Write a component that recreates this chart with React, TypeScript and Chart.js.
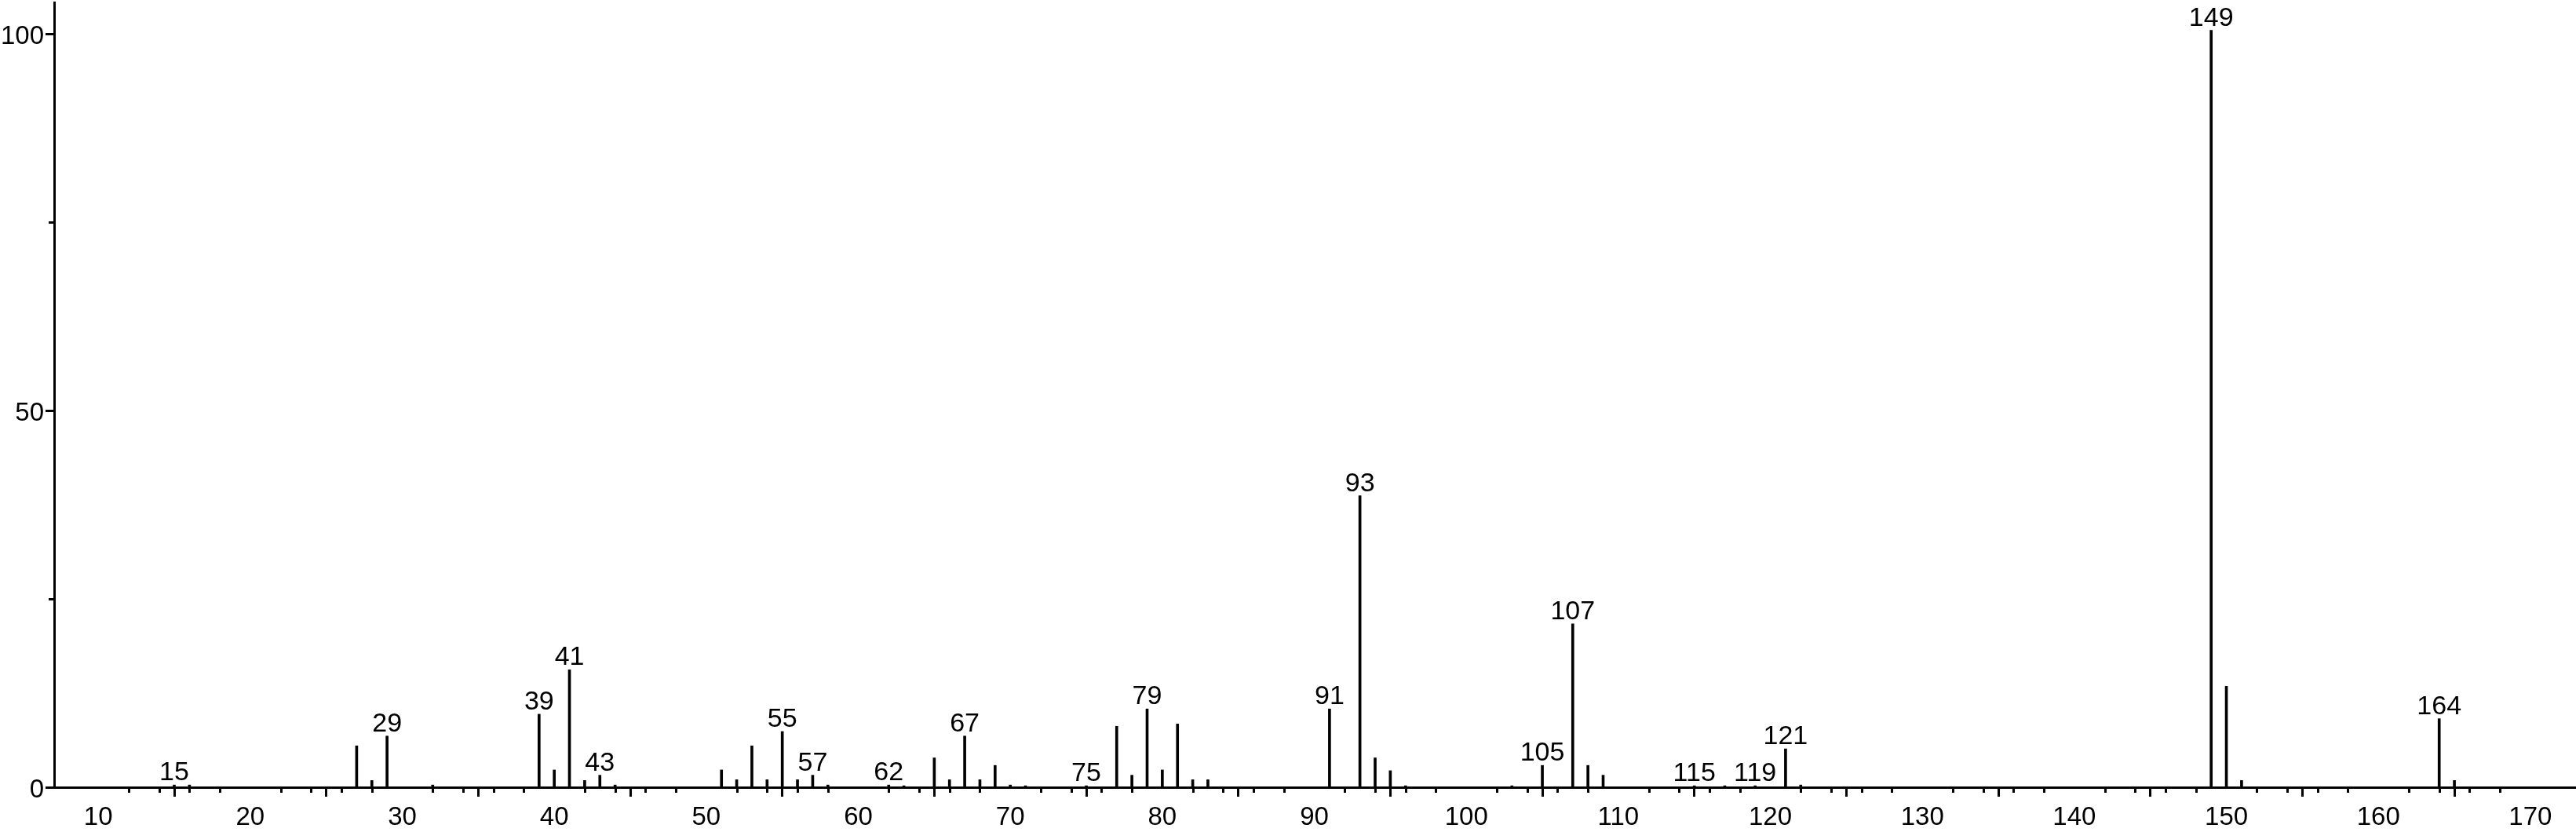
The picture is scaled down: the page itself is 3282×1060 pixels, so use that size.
import React, { useEffect, useRef } from 'react';
import { Chart, registerables } from 'chart.js';

Chart.register(...registerables);

// m/z values of the spectrum lines
const masses = [
  15, 16, 27, 28, 29, 32, 39, 40, 41, 42, 43, 44,
  51, 52, 53, 54, 55, 56, 57, 58, 62, 63, 65, 66, 67, 68, 69, 70, 71, 75,
  77, 78, 79, 80, 81, 82, 83, 91, 93, 94, 95, 96, 103, 105, 107, 108, 109,
  115, 117, 119, 121, 122, 149, 150, 151, 164, 165,
];

// relative intensities (%)
const intensities = [
  0.3, 0.3, 5.5, 0.9, 6.8, 0.3, 9.7, 2.3, 15.6, 0.9, 1.6, 0.3,
  2.3, 1.0, 5.5, 1.0, 7.4, 1.0, 1.6, 0.3, 0.3, 0.2, 3.9, 1.0, 6.8, 1.0, 2.9, 0.3, 0.2, 0.2,
  8.1, 1.6, 10.4, 2.3, 8.4, 1.0, 1.0, 10.4, 38.7, 3.9, 2.2, 0.2, 0.2, 2.9, 21.7, 2.9, 1.6,
  0.2, 0.2, 0.2, 5.1, 0.3, 100.5, 13.4, 0.9, 9.1, 0.9,
];

// lines that carry an m/z label
const labeledMasses = [15, 29, 39, 41, 43, 55, 57, 62, 67, 75, 79, 91, 93, 105, 107, 115, 119, 121, 149, 164];

// axis ticks
const xMajorTicks = [10, 20, 30, 40, 50, 60, 70, 80, 90, 100, 110, 120, 130, 140, 150, 160, 170];
const xMinorStep = 2;
const yMajorTicks = [0, 50, 100];
const yMinorTicks = [25, 75];

const X_MIN = 7.1;
const X_MAX = 173;
const Y_MIN = 0;
const Y_MAX = 104.2;

const FONT = '"Liberation Sans", Arial, Helvetica, sans-serif';

const minorTicksPlugin = {
  id: 'minorTicks',
  afterDraw(chart: any) {
    const ctx = chart.ctx;
    const xs = chart.scales.x;
    const ys = chart.scales.y;
    ctx.save();
    ctx.strokeStyle = '#000';
    ctx.lineWidth = 3;
    ctx.beginPath();
    for (let i = 0; i < xMajorTicks.length - 1; i++) {
      for (let t = xMajorTicks[i] + xMinorStep; t < xMajorTicks[i + 1]; t += xMinorStep) {
        const px = Math.round(xs.getPixelForValue(t)) + 0.5;
        ctx.moveTo(px, ys.bottom);
        ctx.lineTo(px, ys.bottom + 7);
      }
    }
    for (const v of yMinorTicks) {
      const py = Math.round(ys.getPixelForValue(v)) + 0.5;
      ctx.moveTo(xs.left - 7, py);
      ctx.lineTo(xs.left, py);
    }
    ctx.stroke();
    ctx.restore();
  },
};

const peakLabelPlugin = {
  id: 'peakLabels',
  afterDatasetsDraw(chart: any) {
    const ctx = chart.ctx;
    const meta = chart.getDatasetMeta(0);
    ctx.save();
    ctx.font = `34px ${FONT}`;
    ctx.fillStyle = '#000';
    ctx.textAlign = 'center';
    ctx.textBaseline = 'alphabetic';
    masses.forEach((m, i) => {
      if (!labeledMasses.includes(m)) return;
      const el = meta.data[i];
      if (!el) return;
      ctx.fillText(String(m), el.x, el.y - 6);
    });
    ctx.restore();
  },
};

export default function App() {
  const canvasRef = useRef<HTMLCanvasElement | null>(null);

  useEffect(() => {
    if (!canvasRef.current) return;
    const data = masses.map((m, i) => ({ x: m, y: intensities[i] }));
    const chart = new Chart(canvasRef.current, {
      type: 'bar',
      data: {
        datasets: [
          {
            data: data as any,
            backgroundColor: '#000',
            borderWidth: 0,
            barThickness: 3,
          },
        ],
      },
      options: {
        animation: false,
        responsive: false,
        devicePixelRatio: 1,
        layout: { padding: { top: 3, right: 0, bottom: 0, left: 0 } },
        plugins: {
          legend: { display: false },
          tooltip: { enabled: false },
          title: { display: false },
        },
        scales: {
          x: {
            type: 'linear',
            min: X_MIN,
            max: X_MAX,
            offset: false,
            afterBuildTicks: (scale: any) => {
              scale.ticks = xMajorTicks.map((v) => ({ value: v }));
            },
            afterFit: (scale: any) => {
              scale.height = 57;
              scale.paddingLeft = 0;
              scale.paddingRight = 0;
            },
            grid: {
              display: true,
              drawOnChartArea: false,
              drawTicks: true,
              tickLength: 12,
              tickWidth: 3,
              tickColor: '#000',
            },
            border: { display: true, color: '#000', width: 3 },
            ticks: {
              color: '#000',
              font: { family: FONT, size: 33 },
              padding: 7,
              maxRotation: 0,
              autoSkip: false,
              callback: (v: any) => String(v),
            },
          },
          y: {
            type: 'linear',
            min: Y_MIN,
            max: Y_MAX,
            afterBuildTicks: (scale: any) => {
              scale.ticks = yMajorTicks.map((v) => ({ value: v }));
            },
            afterFit: (scale: any) => {
              scale.width = 69;
              scale.paddingTop = 0;
              scale.paddingBottom = 0;
            },
            grid: {
              display: true,
              drawOnChartArea: false,
              drawTicks: true,
              tickLength: 11,
              tickWidth: 3,
              tickColor: '#000',
            },
            border: { display: true, color: '#000', width: 3 },
            ticks: {
              color: '#000',
              font: { family: FONT, size: 33 },
              padding: 2,
              labelOffset: 4,
              autoSkip: false,
              callback: (v: any) => String(v),
            },
          },
        },
      },
      plugins: [minorTicksPlugin, peakLabelPlugin],
    });
    return () => chart.destroy();
  }, []);

  return (
    <div style={{ position: 'fixed', left: 0, top: 0, width: 3282, height: 1060, background: '#fff' }}>
      <canvas ref={canvasRef} width={3282} height={1060} style={{ display: 'block', width: 3282, height: 1060 }} />
    </div>
  );
}
